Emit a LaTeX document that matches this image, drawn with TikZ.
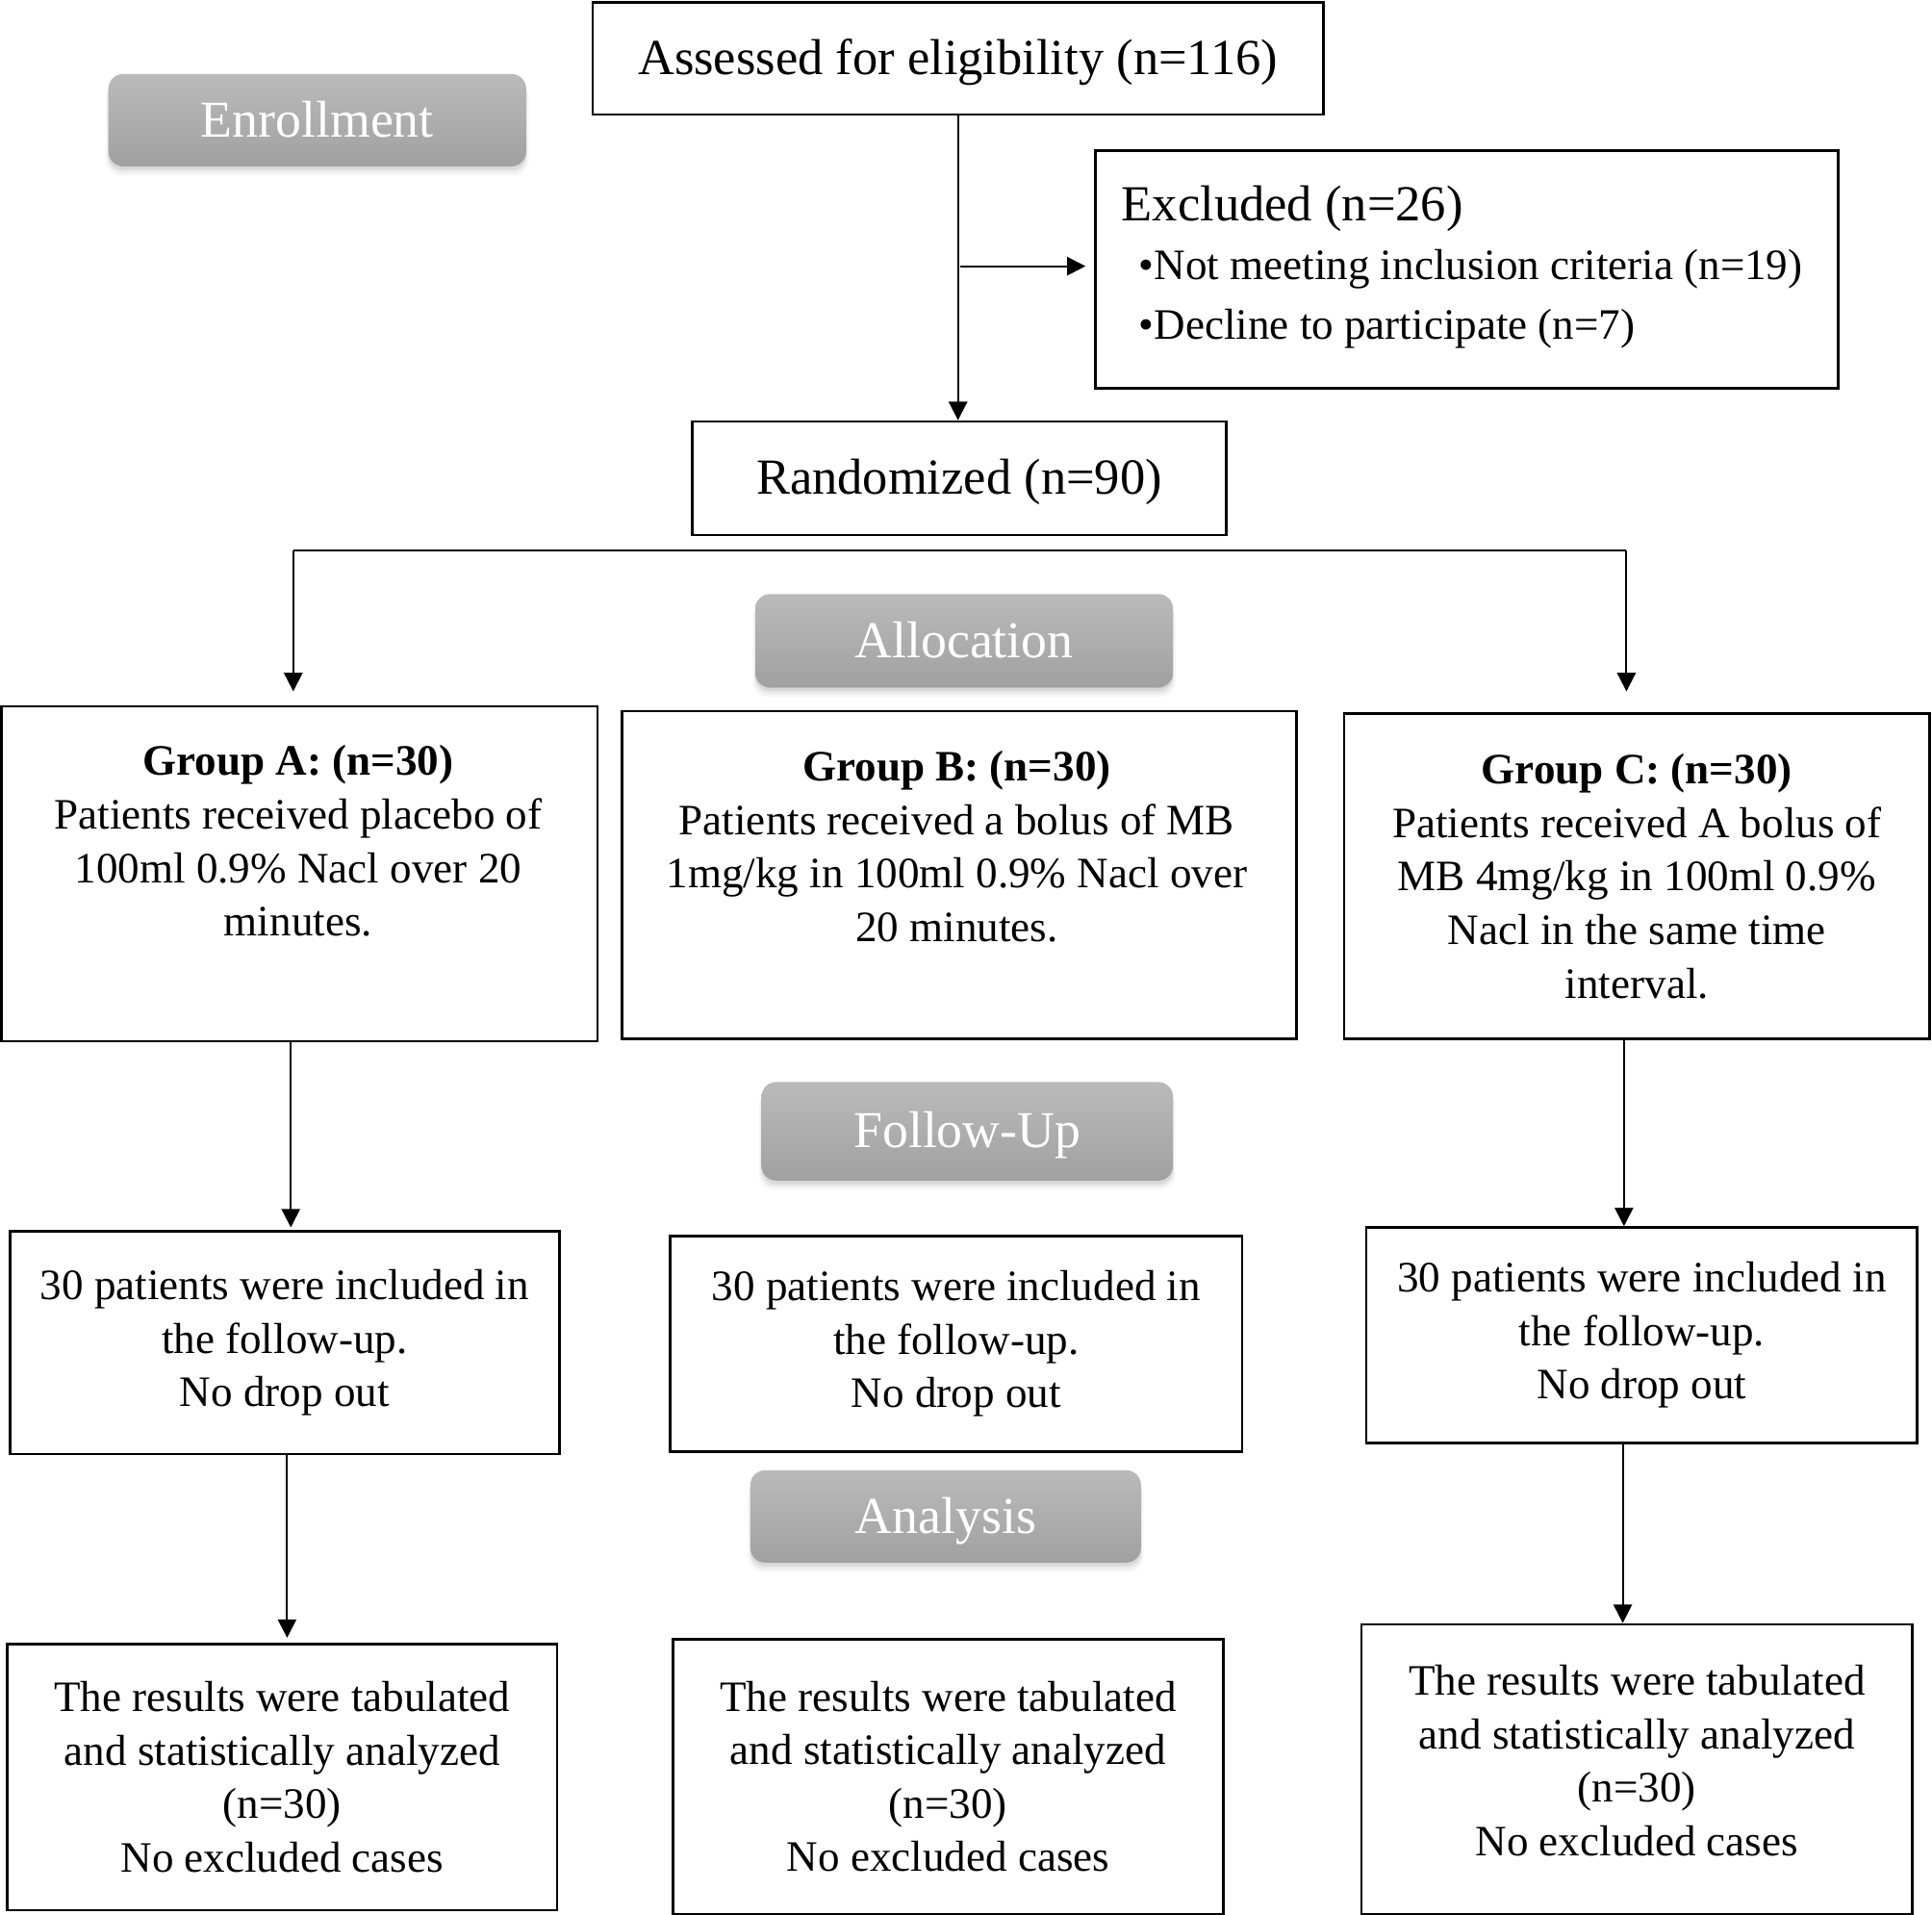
\documentclass[tikz,border=0pt]{standalone}
\usepackage{fontspec}
\setmainfont{Liberation Serif}
\usetikzlibrary{arrows.meta,shadows}
\begin{document}
\begin{tikzpicture}[x=0.5pt,y=-0.5pt,
  box/.style={draw=black, line width=1pt, inner sep=0pt, align=center,
    font=\fontsize{17.6}{21.7}\selectfont},
  bigbox/.style={box, font=\fontsize{20.5}{24}\selectfont, text height=15.5pt, text depth=2.5pt},
  txt/.style={inner sep=0pt, align=center, font=\fontsize{17.6}{21.7}\selectfont},
  softshadow/.style={
    general shadow={fill=black, opacity=0.03, shadow xshift=0pt, shadow yshift=-3.5pt, shadow scale=1.012},
    general shadow={fill=black, opacity=0.05, shadow xshift=0pt, shadow yshift=-2.5pt, shadow scale=1.005},
    general shadow={fill=black, opacity=0.07, shadow xshift=0pt, shadow yshift=-1.5pt, shadow scale=1.0}},
  glabel/.style={rounded corners=6pt, inner sep=0pt, top color=black!27, bottom color=black!37,
    draw=none, text=white, font=\fontsize{21}{25}\selectfont, text height=16pt, text depth=2.5pt, softshadow},
  conn/.style={line width=0.75pt, draw=black},
  arr/.style={conn, -{Triangle[length=7.5pt,width=7.5pt]}}
]
\useasboundingbox (0,0) rectangle (1568,1553.2);

% gray stage labels
\node[glabel, minimum width=169.5pt, minimum height=37.5pt] (enroll) at (257.5,97.5) {Enrollment};
\node[glabel, minimum width=169.5pt, minimum height=38pt] (alloc) at (782.5,520) {Allocation};
\node[glabel, minimum width=167pt, minimum height=40pt] (follow) at (785,918) {Follow-Up};
\node[glabel, minimum width=158.5pt, minimum height=37.5pt] (analysis) at (767.5,1230.5) {Analysis};

% top boxes
\node[bigbox, minimum width=296.5pt, minimum height=45.5pt] (assess) at (777.5,47.5) {Assessed for eligibility (n=116)};
\node[box, minimum width=301.5pt, minimum height=96.5pt] (excl) at (1190.5,218.5) {};
\node[anchor=base west, inner sep=0pt, font=\fontsize{20.5}{24}\selectfont] (exT) at (910,179) {Excluded (n=26)};
\node[anchor=base west, inner sep=0pt, font=\fontsize{17.6}{21.7}\selectfont] (exB1) at (924,227) {•Not meeting inclusion criteria (n=19)};
\node[anchor=base west, inner sep=0pt, font=\fontsize{17.6}{21.7}\selectfont] (exB2) at (924,275) {•Decline to participate (n=7)};
\node[bigbox, minimum width=216.5pt, minimum height=46pt] (rand) at (778.5,388) {Randomized (n=90)};

% group boxes
\node[box, minimum width=242pt, minimum height=136pt] (grpA) at (243,709) {};
\node[txt] (grpAt) at (242,682.5) {\textbf{Group A: (n=30)}\\Patients received placebo of\\100ml 0.9\% Nacl over 20\\minutes.};
\node[box, minimum width=273.5pt, minimum height=133pt] (grpB) at (778.5,710) {};
\node[txt] (grpBt) at (776.5,687) {\textbf{Group B: (n=30)}\\Patients received a bolus of MB\\1mg/kg in 100ml 0.9\% Nacl over\\20 minutes.};
\node[box, minimum width=237.5pt, minimum height=132pt] (grpC) at (1328.5,711) {\textbf{Group C: (n=30)}\\Patients received A bolus of\\MB 4mg/kg in 100ml 0.9\%\\Nacl in the same time\\interval.};

% follow-up boxes
\node[box, minimum width=223pt, minimum height=90.5pt] (fuA) at (231,1089.5) {30 patients were included in\\the follow-up.\\No drop out};
\node[box, minimum width=232pt, minimum height=87.5pt] (fuB) at (776,1090.5) {30 patients were included in\\the follow-up.\\No drop out};
\node[box, minimum width=223.5pt, minimum height=87.5pt] (fuC) at (1332.5,1083.5) {30 patients were included in\\the follow-up.\\No drop out};

% result boxes
\node[box, minimum width=223pt, minimum height=108pt] (resA) at (229,1442) {The results were tabulated\\and statistically analyzed\\(n=30)\\No excluded cases};
\node[box, minimum width=223.5pt, minimum height=111.5pt] (resB) at (769.5,1441.5) {The results were tabulated\\and statistically analyzed\\(n=30)\\No excluded cases};
\node[box, minimum width=223.5pt, minimum height=117.5pt] (resC) at (1328.5,1435.5) {};
\node[txt] (resCt) at (1328.5,1428.5) {The results were tabulated\\and statistically analyzed\\(n=30)\\No excluded cases};

% connectors
\draw[arr] (assess.south) -- (assess.south |- rand.north);
\coordinate (exj) at (779,216);
\draw[arr, shorten >=3.5pt] (exj) -- (exj -| excl.west);
\coordinate (spL) at (238,447);
\coordinate (spR) at (1320,447);
\draw[conn] (spL) -- (spR);
\draw[arr, shorten >=5.5pt] (spL) -- (spL |- grpA.north);
\draw[arr, shorten >=8.5pt] (spR) -- (spR |- grpC.north);
\coordinate (xA1) at (236,0);
\coordinate (xC1) at (1318,0);
\coordinate (xA2) at (233,0);
\coordinate (xC2) at (1317,0);
\draw[arr, shorten >=1pt] (grpA.south -| xA1) -- (fuA.north -| xA1);
\draw[arr] (grpC.south -| xC1) -- (fuC.north -| xC1);
\draw[arr, shorten >=2pt] (fuA.south -| xA2) -- (resA.north -| xA2);
\draw[arr] (fuC.south -| xC2) -- (resC.north -| xC2);
\end{tikzpicture}
\end{document}
